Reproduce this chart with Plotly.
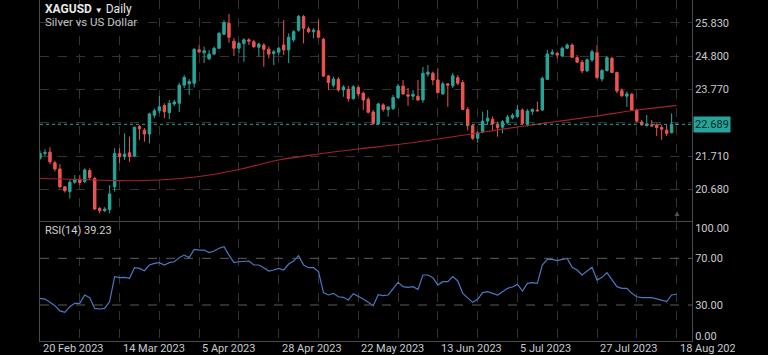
import plotly.graph_objects as go

# ---------------- data ----------------
date_labels = ["20 Feb 2023", "14 Mar 2023", "5 Apr 2023", "28 Apr 2023", "22 May 2023",
               "13 Jun 2023", "5 Jul 2023", "27 Jul 2023", "18 Aug 2023"]
label_idx = [0, 16, 32, 48, 64, 80, 96, 112, 128]

opens = [21.64, 21.79, 21.83, 21.50, 21.31, 20.76, 20.61, 20.90, 20.99, 20.92,
         21.26, 21.02, 20.09, 20.02, 20.06, 20.76, 21.79, 21.69, 21.81, 21.71,
         22.62, 22.51, 22.39, 22.97, 23.11, 23.27, 23.05, 23.32, 23.34, 23.90,
         23.94, 23.96, 24.99, 24.90, 24.71, 24.86, 25.04, 25.47, 25.81, 25.26,
         25.04, 25.19, 25.30, 25.24, 25.07, 25.14, 25.01, 24.88, 24.92, 25.14,
         24.99, 25.30, 25.60, 26.02, 25.64, 25.55, 25.58, 25.32, 24.18, 23.90,
         24.08, 23.75, 23.77, 23.49, 23.83, 23.65, 23.46, 23.07, 22.70, 23.29,
         23.15, 23.18, 23.52, 23.87, 23.60, 23.56, 23.56, 23.44, 24.24, 24.27,
         24.06, 23.63, 23.94, 23.88, 24.13, 23.98, 23.15, 22.65, 22.26, 22.46,
         22.79, 22.85, 22.69, 22.60, 22.75, 22.89, 22.93, 23.13, 22.70, 23.09,
         23.13, 23.13, 24.08, 24.86, 24.88, 24.80, 25.04, 25.14, 24.75, 24.61,
         24.34, 24.68, 24.90, 24.09, 24.35, 24.73, 24.29, 23.73, 23.56, 23.62,
         23.13, 22.76, 22.65, 22.67, 22.67, 22.59, 22.51, 22.43, 22.689]
highs = [21.87, 21.92, 21.98, 21.56, 21.46, 20.78, 20.97, 21.12, 21.12, 21.33,
         21.33, 21.06, 20.13, 20.13, 20.81, 21.95, 21.95, 22.41, 22.31, 22.62,
         22.67, 22.57, 23.05, 23.18, 23.56, 23.34, 23.44, 23.44, 23.97, 24.21,
         24.09, 25.04, 25.14, 25.09, 24.99, 25.09, 25.55, 25.91, 26.10, 25.35,
         25.24, 25.35, 25.35, 25.30, 25.21, 25.19, 25.09, 24.99, 25.09, 25.91,
         25.50, 25.60, 26.07, 26.07, 25.71, 25.66, 25.91, 25.36, 24.21, 24.16,
         24.15, 23.90, 23.87, 23.90, 23.90, 23.70, 23.53, 23.13, 23.36, 23.34,
         23.26, 23.60, 23.94, 24.06, 23.81, 23.75, 24.06, 24.46, 24.52, 24.32,
         24.42, 24.01, 23.96, 24.28, 24.21, 24.06, 23.22, 22.70, 22.48, 23.08,
         23.13, 22.93, 22.77, 22.82, 22.98, 23.03, 23.29, 23.18, 23.16, 23.18,
         23.39, 24.16, 24.99, 25.01, 24.93, 25.09, 25.19, 25.19, 24.83, 24.68,
         24.74, 24.99, 25.14, 24.40, 24.80, 24.78, 24.32, 23.80, 23.70, 23.66,
         23.16, 22.82, 22.98, 22.82, 22.72, 22.67, 22.67, 23.03, 22.689]
lows = [21.59, 21.71, 21.46, 21.23, 20.71, 20.58, 20.40, 20.85, 20.81, 20.87,
        20.97, 20.04, 19.94, 19.98, 19.94, 20.61, 21.49, 21.59, 21.53, 21.69,
        22.21, 22.15, 22.10, 22.88, 23.03, 22.88, 22.85, 23.26, 23.07, 23.81,
        23.60, 23.83, 24.88, 24.58, 24.68, 24.83, 25.01, 25.45, 25.21, 24.80,
        24.88, 24.62, 25.14, 25.04, 24.78, 24.47, 24.73, 24.52, 24.83, 24.83,
        24.58, 25.24, 25.55, 25.19, 25.51, 25.35, 25.35, 24.15, 23.75, 23.83,
        23.70, 23.54, 23.39, 23.44, 23.56, 23.13, 23.03, 22.68, 22.67, 23.08,
        22.93, 23.13, 23.47, 23.60, 23.26, 23.44, 23.42, 23.35, 24.16, 23.90,
        23.65, 23.60, 23.23, 23.81, 23.90, 23.13, 22.51, 22.21, 22.12, 22.41,
        22.67, 22.51, 22.31, 22.41, 22.70, 22.84, 22.88, 22.67, 22.62, 22.98,
        23.08, 23.10, 24.06, 24.83, 24.73, 24.78, 25.01, 24.74, 24.58, 24.27,
        24.31, 24.62, 24.11, 24.01, 24.32, 24.27, 23.65, 23.54, 23.23, 23.11,
        22.76, 22.65, 22.62, 22.62, 22.33, 22.21, 22.33, 22.41, 22.689]
closes = [21.79, 21.82, 21.53, 21.31, 20.76, 20.64, 20.90, 20.99, 20.89, 21.28,
          21.05, 20.07, 20.02, 20.07, 20.54, 21.79, 21.69, 21.77, 21.69, 22.60,
          22.55, 22.39, 23.01, 23.11, 23.23, 23.08, 23.34, 23.38, 23.90, 24.14,
          24.01, 25.01, 24.93, 24.96, 24.86, 25.04, 25.50, 25.83, 25.38, 25.04,
          25.19, 25.30, 25.26, 25.09, 25.17, 25.01, 24.86, 24.93, 25.04, 24.99,
          25.38, 25.55, 26.02, 25.66, 25.55, 25.60, 25.38, 24.18, 23.98, 24.09,
          23.75, 23.84, 23.49, 23.85, 23.63, 23.44, 23.06, 22.72, 23.32, 23.15,
          23.22, 23.52, 23.87, 23.63, 23.56, 23.62, 23.44, 24.27, 24.30, 24.06,
          23.67, 23.94, 23.90, 24.19, 23.96, 23.15, 22.65, 22.26, 22.43, 22.79,
          22.88, 22.70, 22.59, 22.77, 22.91, 22.97, 23.13, 22.72, 23.10, 23.15,
          23.11, 24.11, 24.86, 24.92, 24.83, 25.04, 25.14, 24.76, 24.61, 24.34,
          24.68, 24.93, 24.13, 24.35, 24.75, 24.29, 23.72, 23.57, 23.63, 23.13,
          22.79, 22.67, 22.70, 22.64, 22.59, 22.54, 22.41, 22.689, 22.689]

ma_idx = [0, 8, 16, 24, 32, 40, 48, 56, 64, 72, 80, 88, 96, 104, 112, 120, 128]
ma_vals = [21.015, 20.984, 20.947, 20.969, 21.077, 21.293, 21.587, 21.772, 21.927,
           22.066, 22.236, 22.421, 22.607, 22.776, 22.946, 23.132, 23.277]

rsi_vals = [35.7, 35.1, 32.3, 29.4, 24.9, 23.7, 28.6, 31.4, 31.4, 38.6,
            36.3, 27.1, 26.6, 27.1, 32.9, 54.3, 53.4, 53.7, 52.9, 62.0,
            61.4, 59.4, 64.3, 65.7, 66.3, 64.3, 66.3, 67.1, 70.6, 72.8,
            70.6, 77.7, 77.1, 77.1, 74.9, 76.3, 78.6, 80.0, 72.8, 66.3,
            67.1, 67.7, 67.7, 64.3, 64.3, 62.0, 59.1, 60.0, 61.4, 60.0,
            65.1, 67.7, 72.3, 64.3, 62.0, 62.0, 58.6, 40.6, 38.6, 40.0,
            37.1, 36.6, 34.3, 39.7, 37.7, 35.1, 32.3, 29.4, 38.8, 38.0,
            38.6, 43.7, 49.4, 45.7, 45.1, 45.7, 43.4, 55.7, 55.7, 53.4,
            47.1, 50.0, 50.0, 54.3, 50.6, 40.0, 36.3, 32.3, 34.9, 40.6,
            41.4, 40.0, 38.6, 41.4, 44.3, 45.4, 47.7, 42.0, 48.6, 49.1,
            48.6, 64.3, 69.1, 69.1, 68.0, 69.1, 70.0, 62.3, 60.0, 55.7,
            59.4, 62.3, 51.4, 53.7, 57.7, 52.0, 45.7, 44.3, 44.3, 40.0,
            37.1, 36.3, 36.3, 36.3, 35.2, 34.3, 32.9, 38.6, 39.2]

price_ticks = [20.680, 21.710, 22.740, 23.770, 24.800, 25.830]
price_labels = ["20.680", "21.710", "", "23.770", "24.800", "25.830"]
rsi_levels = [30, 70]
rsi_tick_pos = [3.7, 30, 70, 95.7]
rsi_tick_text = ["0.00", "30.00", "70.00", "100.00"]
rsi_title = "RSI(14) 39.23"

# ---------------- styling ----------------
UP = "#26a69a"
DOWN = "#ef5350"
MA_COLOR = "#a3232a"
RSI_COLOR = "#4a78c2"
GRID = "#333333"
AXLINE = "#4a4a4a"
TXT = "#c9cbd1"
FONT = "Roboto"

x = list(range(len(closes)))
XR = [0, 131.1]
SPLIT = 0.3519

fig = go.Figure()
fig.add_trace(go.Candlestick(
    x=x, open=opens, high=highs, low=lows, close=closes,
    increasing=dict(line=dict(color=UP, width=1), fillcolor=UP),
    decreasing=dict(line=dict(color=DOWN, width=1), fillcolor=DOWN),
    whiskerwidth=0, showlegend=False, hoverinfo="skip",
    xaxis="x", yaxis="y"))
fig.add_trace(go.Scatter(
    x=ma_idx, y=ma_vals, mode="lines", line=dict(color=MA_COLOR, width=1.2, shape="spline"),
    showlegend=False, hoverinfo="skip", xaxis="x", yaxis="y"))
fig.add_trace(go.Scatter(
    x=x, y=rsi_vals, mode="lines", line=dict(color=RSI_COLOR, width=1.2),
    showlegend=False, hoverinfo="skip", xaxis="x2", yaxis="y2"))

grid_ticks = list(range(0, 129, 8))
common_x = dict(range=XR, tickvals=grid_ticks, showticklabels=False, showgrid=True,
                gridcolor=GRID, griddash="dash", gridwidth=1, zeroline=False,
                showline=True, linecolor=AXLINE, linewidth=1, ticks="", fixedrange=True)

fig.update_layout(
    width=768, height=355,
    margin=dict(l=40, r=76, t=0, b=14),
    paper_bgcolor="#000000", plot_bgcolor="#000000",
    font=dict(family=FONT, size=11, color=TXT),
    xaxis=dict(domain=[0, 1], anchor="y", rangeslider=dict(visible=False), **common_x),
    xaxis2=dict(domain=[0, 1], anchor="y2", **common_x),
    yaxis=dict(domain=[SPLIT, 1], side="right", range=[19.702, 26.531],
               tickvals=price_ticks, ticktext=price_labels, showgrid=True, gridcolor=GRID,
               griddash="dash", zeroline=False, showline=True, mirror=True,
               linecolor=AXLINE, ticks="", tickfont=dict(size=11, color=TXT)),
    yaxis2=dict(domain=[0, SPLIT], side="right", range=[-0.85, 102.0],
                tickvals=rsi_tick_pos, ticktext=rsi_tick_text, showgrid=False,
                zeroline=False, showline=True, mirror=True, linecolor=AXLINE, ticks="",
                tickfont=dict(size=11, color=TXT)),
    showlegend=False,
)

# RSI 30/70 levels
for lv in rsi_levels:
    fig.add_shape(type="line", xref="x2 domain", yref="y2", x0=0, x1=1, y0=lv, y1=lv,
                  line=dict(color="#5c5c5c", width=1, dash="dash"))

# current price dotted line + label
last = closes[-1]
fig.add_shape(type="line", xref="x domain", yref="y", x0=0, x1=1, y0=last, y1=last,
              line=dict(color=UP, width=1, dash="dot"))
fig.add_annotation(xref="paper", yref="y", x=1, y=last, xanchor="left", yanchor="middle",
                   xshift=1, text=f"{last:.3f}", showarrow=False, bgcolor=UP,
                   borderpad=1, font=dict(family=FONT, size=11, color="#06231f"))

# date labels (the last one is clipped by the window edge, as in the reference)
for i, lab in zip(label_idx, date_labels):
    extra = dict(width=55, align="left") if i == label_idx[-1] else {}
    fig.add_annotation(xref="x2", yref="paper", x=i, y=0, xanchor="left", yanchor="middle",
                       xshift=1, yshift=-7, text=lab, showarrow=False,
                       font=dict(family=FONT, size=11, color=TXT), **extra)

# header texts
fig.add_annotation(xref="paper", yref="paper", x=0, y=1, xanchor="left", yanchor="middle",
                   xshift=3, yshift=-9, showarrow=False,
                   text="<b>XAGUSD</b> <span style='font-size:8px'>▼</span> Daily",
                   font=dict(family=FONT, size=12, color="#e8e8e8"))
fig.add_annotation(xref="paper", yref="paper", x=0, y=1, xanchor="left", yanchor="middle",
                   xshift=3, yshift=-22, showarrow=False, text="Silver vs US Dollar",
                   font=dict(family=FONT, size=11.5, color="#c4c4c4"))
fig.add_annotation(xref="paper", yref="paper", x=0, y=SPLIT, xanchor="left", yanchor="middle",
                   xshift=3, yshift=-9, showarrow=False, text=rsi_title,
                   font=dict(family=FONT, size=11, color="#d0d0d0"))
# scroll marker triangle
fig.add_annotation(xref="x", yref="paper", x=128, y=SPLIT, xanchor="center", yanchor="bottom",
                   yshift=1, showarrow=False, text="▲", font=dict(size=8, color="#555555"))

fig.write_html("out.html", config={"displayModeBar": False},
               post_script="document.body.style.margin='0';document.body.style.background='#000';")
